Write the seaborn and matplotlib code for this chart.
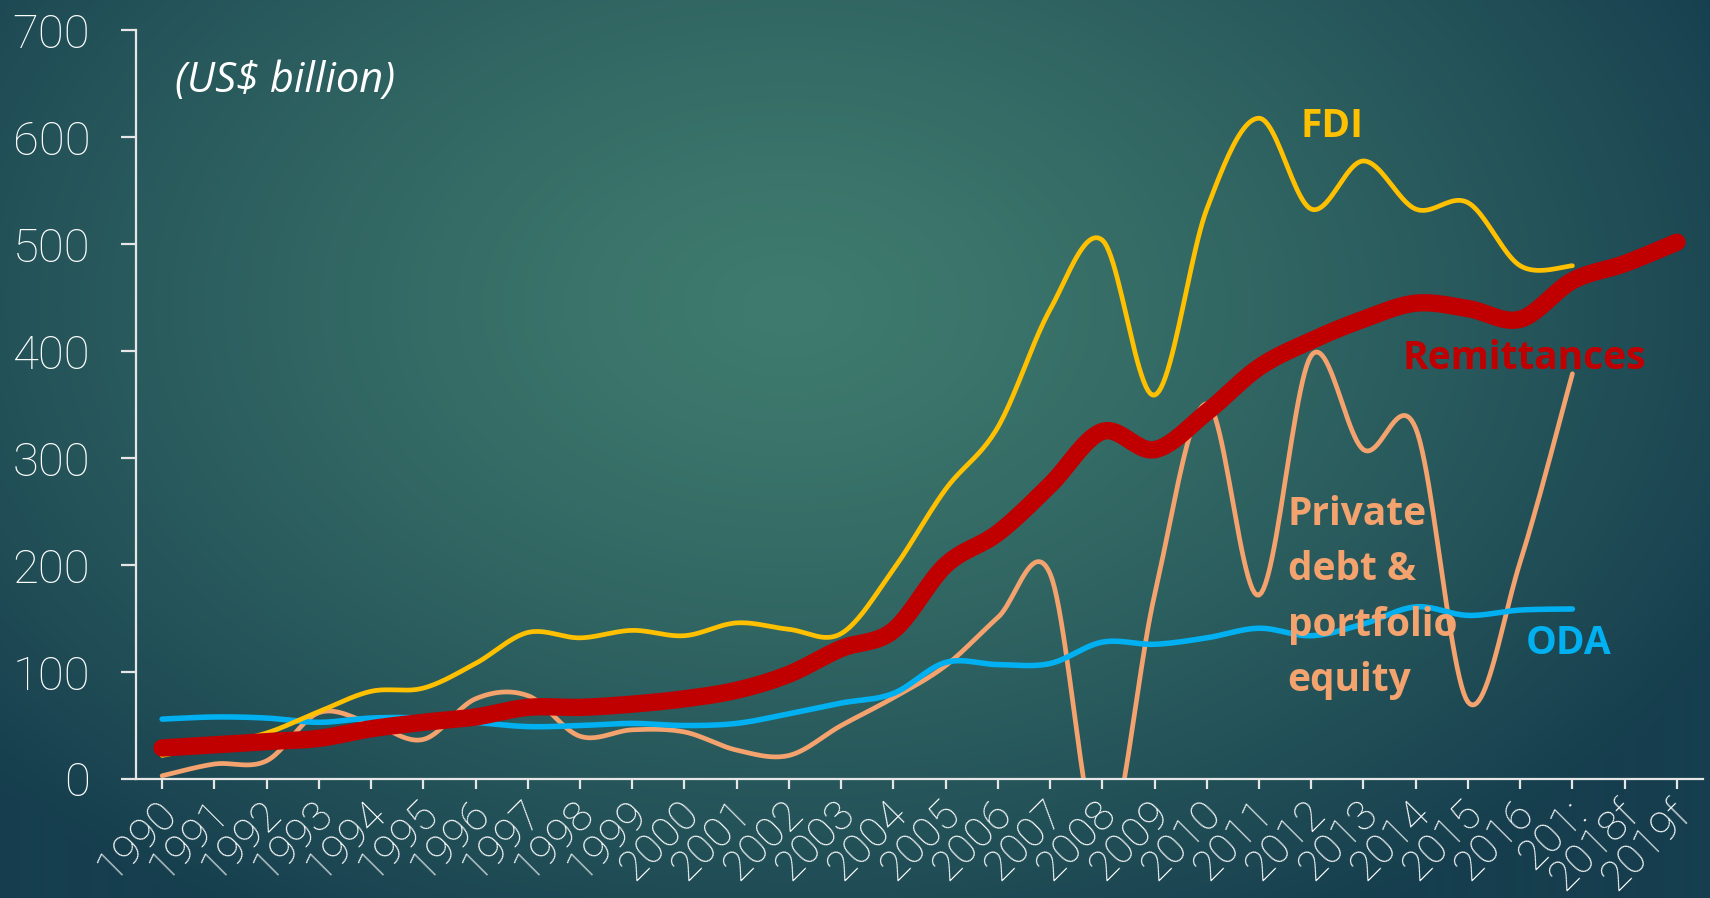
import numpy as np
import pandas as pd
import matplotlib
matplotlib.use("Agg")
import matplotlib.pyplot as plt
import matplotlib.transforms as mtransforms
import seaborn as sns

# ---------------- data ----------------
years = ["1990", "1991", "1992", "1993", "1994", "1995", "1996", "1997", "1998", "1999",
         "2000", "2001", "2002", "2003", "2004", "2005", "2006", "2007", "2008", "2009",
         "2010", "2011", "2012", "2013", "2014", "2015", "2016", "201:", "2018f", "2019f"]

remittances = [29, 32, 35, 38, 47, 53, 58, 67, 67, 70,
               75, 83, 98, 122, 139, 200, 230, 275, 325, 308,
               343, 385, 410, 430, 445, 440, 430, 466, 482, 502]

fdi = [22, 32, 43, 63, 82, 85, 108, 137, 132, 139,
       134, 146, 140, 136, 196, 271, 329, 439, 504, 359,
       533, 618, 533, 578, 533, 539, 480, 480]

private_debt = [3, 14, 17, 62, 52, 37, 75, 78, 40, 46,
                44, 27, 22, 50, 76, 106, 151, 192, -70, 172,
                351, 172, 396, 308, 328, 72, 203, 379]

oda = [56, 58, 57, 53, 57, 57, 53, 49, 50, 52,
       50, 52, 61, 71, 80, 109, 107, 108, 128, 126,
       132, 141, 134, 145, 161, 153, 158, 159]

yticks = [0, 100, 200, 300, 400, 500, 600, 700]

# ---------------- style ----------------
sns.set_theme(style="white")
plt.rcParams["font.family"] = ["Roboto", "DejaVu Sans"]

W, H, DPI = 1710, 898, 100
fig = plt.figure(figsize=(W / DPI, H / DPI), dpi=DPI)

# radial gradient background
bg = fig.add_axes([0, 0, 1, 1], zorder=-10)
gy, gx = np.mgrid[0:H, 0:W]
cx, cy = 0.46 * W, 0.34 * H
r = np.sqrt(((gx - cx) / (0.62 * W)) ** 2 + ((gy - cy) / (0.80 * H)) ** 2)
t = np.clip(r, 0, 1) ** 1.3
c_center = np.array([63, 123, 110]) / 255
c_edge = np.array([22, 62, 78]) / 255
img = c_center[None, None, :] * (1 - t[..., None]) + c_edge[None, None, :] * t[..., None]
bg.imshow(img, aspect="auto", extent=[0, 1, 0, 1], origin="upper")
bg.axis("off")

ax = fig.add_axes([136 / W, 1 - 779 / H, (1703 - 136) / W, (779 - 30.5) / H])
ax.set_facecolor("none")


def smooth(vals, n=24):
    """Excel-style smoothed Bezier through the points."""
    p = np.array(vals, dtype=float)
    x = np.arange(len(p), dtype=float)
    xs, ys = [], []
    for i in range(len(p) - 1):
        x0, x1 = x[i], x[i + 1]
        y0, y1 = p[i], p[i + 1]
        xm1 = x[i - 1] if i > 0 else x0
        ym1 = p[i - 1] if i > 0 else y0
        xp2 = x[i + 2] if i + 2 < len(p) else x1
        yp2 = p[i + 2] if i + 2 < len(p) else y1
        c1x, c1y = x0 + (x1 - xm1) / 6, y0 + (y1 - ym1) / 6
        c2x, c2y = x1 - (xp2 - x0) / 6, y1 - (yp2 - y0) / 6
        tt = np.linspace(0, 1, n, endpoint=(i == len(p) - 2))
        bx = (1 - tt) ** 3 * x0 + 3 * (1 - tt) ** 2 * tt * c1x + 3 * (1 - tt) * tt ** 2 * c2x + tt ** 3 * x1
        by = (1 - tt) ** 3 * y0 + 3 * (1 - tt) ** 2 * tt * c1y + 3 * (1 - tt) * tt ** 2 * c2y + tt ** 3 * y1
        xs.append(bx)
        ys.append(by)
    return np.concatenate(xs), np.concatenate(ys)


series = [
    ("Private debt", private_debt, "#F4A26E", 3.4),
    ("ODA", oda, "#00B0F0", 4.0),
    ("FDI", fdi, "#FFC000", 3.4),
    ("Remittances", remittances, "#C00000", 12.5),
]
for name, vals, col, lw in series:
    sx, sy = smooth(vals)
    df = pd.DataFrame({"x": sx, "y": sy})
    sns.lineplot(data=df, x="x", y="y", ax=ax, color=col, linewidth=lw,
                 sort=False, estimator=None, solid_capstyle="round")

ax.set_xlim(-0.5, len(years) - 0.5)
ax.set_ylim(0, 700)
ax.set_xlabel("")
ax.set_ylabel("")

for s in ["top", "right"]:
    ax.spines[s].set_visible(False)
for s in ["left", "bottom"]:
    ax.spines[s].set_color("#E6E6E6")
    ax.spines[s].set_linewidth(1.6)

ax.set_yticks(yticks)
ax.set_yticklabels([str(v) for v in yticks], fontsize=34, color="white", fontweight="light")
ax.tick_params(axis="y", direction="out", length=11, width=1.6, color="#E6E6E6", pad=22, left=True)

ax.set_xticks(range(len(years)))
ax.set_xticklabels(years, fontsize=31, color="white", rotation=45, ha="right", va="center",
                   rotation_mode="anchor", fontweight="light")
ax.tick_params(axis="x", direction="out", length=7.5, width=1.6, color="#E6E6E6", pad=13, bottom=True)
offset = mtransforms.ScaledTranslation(8 / DPI, 0, fig.dpi_scale_trans)
for lab in ax.get_xticklabels():
    lab.set_transform(lab.get_transform() + offset)

# annotations
ann = ["Open Sans", "DejaVu Sans"]
ax.text(0.25, 653, "(US$ billion)", fontsize=30, color="white", style="italic",
        ha="left", va="center", family=ann)
ax.text(21.8, 610, "FDI", fontsize=28, color="#FFC000", fontweight="bold",
        ha="left", va="center", family=ann)
ax.text(23.74, 393, "Remittances", fontsize=28, color="#C00000", fontweight="bold",
        ha="left", va="center", family=ann)
ax.text(21.55, 266, "Private\ndebt &\nportfolio\nequity", fontsize=28, color="#F4A26E",
        fontweight="bold", ha="left", va="top", linespacing=1.55, family=ann)
ax.text(26.1, 127, "ODA", fontsize=28, color="#00B0F0", fontweight="bold",
        ha="left", va="center", family=ann)

fig.savefig("out.png", dpi=DPI)
